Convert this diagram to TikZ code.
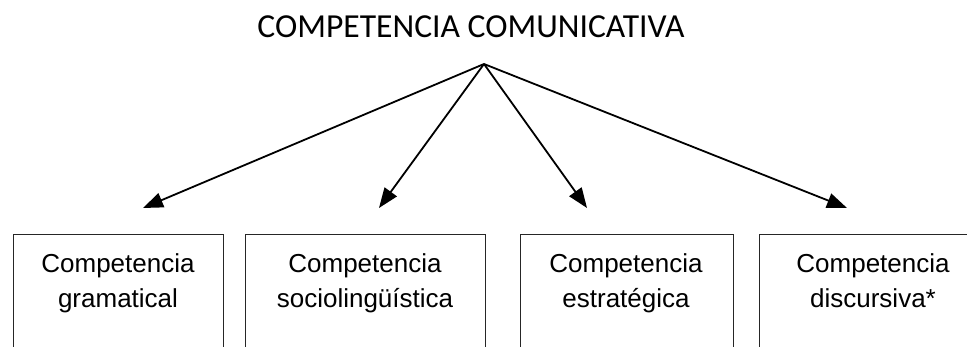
\documentclass[tikz,border=0pt]{standalone}
\usepackage{fontspec}
\setmainfont{Liberation Sans}
\newfontfamily\titlefont{Carlito}
\usetikzlibrary{arrows.meta}
\begin{document}
\begin{tikzpicture}[x=1pt,y=-1pt,
  conn/.style={line width=1.8pt,-{Triangle[length=20pt,width=15pt]}},
  boxnode/.style={draw=black!85,line width=1.3pt,anchor=north west,minimum height=140pt,inner sep=0pt},
  boxtext/.style={anchor=north,align=center,inner sep=0pt,font=\fontsize{26}{35}\selectfont}]
\useasboundingbox (0,0) rectangle (967,347);
\clip (0,0) rectangle (967,347);
\node[anchor=base,inner sep=0pt,font=\titlefont\fontsize{33.6}{40}\selectfont] (title) at (471,38) {COMPETENCIA COMUNICATIVA};
\coordinate (apex) at (484,64);
\coordinate (e1) at (143,208);
\coordinate (e2) at (379,208);
\coordinate (e3) at (587,208);
\coordinate (e4) at (847,208);
\draw[conn] (apex) -- (e1);
\draw[conn] (apex) -- (e2);
\draw[conn] (apex) -- (e3);
\draw[conn] (apex) -- (e4);
\node[boxnode,minimum width=210pt] (b1) at (13,234) {};
\node[boxnode,minimum width=240pt] (b2) at (245,234) {};
\node[boxnode,minimum width=213pt] (b3) at (520,234) {};
\node[boxnode,minimum width=228pt] (b4) at (759,234) {};
\node[boxtext] (t1) at (118,253) {Competencia\\gramatical};
\node[boxtext] (t2) at (365,253) {Competencia\\sociolingüística};
\node[boxtext] (t3) at (626,253) {Competencia\\estratégica};
\node[boxtext] (t4) at (873,253) {Competencia\\discursiva*};
\end{tikzpicture}
\end{document}
